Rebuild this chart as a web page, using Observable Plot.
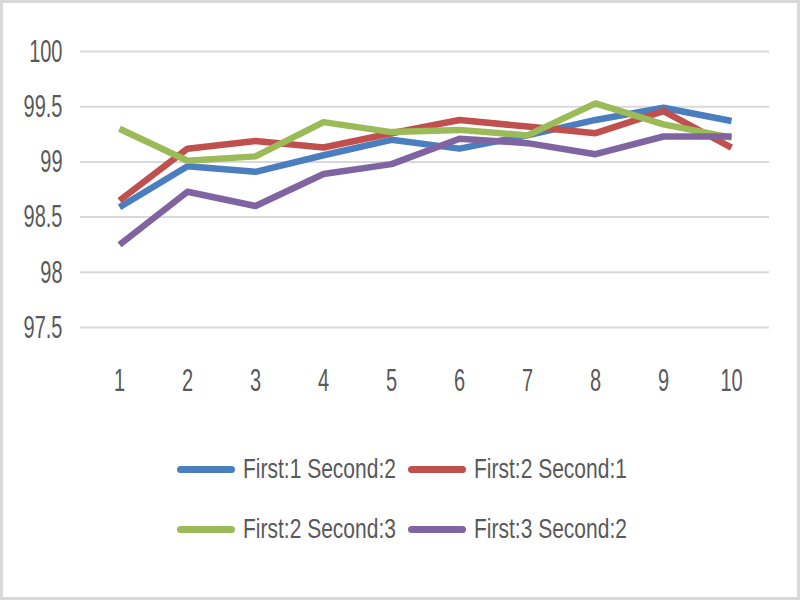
<!DOCTYPE html>
<html>
<head>
<meta charset="utf-8">
<script src="https://cdn.jsdelivr.net/npm/d3@7"></script>
<script src="https://cdn.jsdelivr.net/npm/@observablehq/plot@0.6"></script>
<style>
  html, body { margin: 0; padding: 0; background: #fff; }
  #wrap { position: relative; width: 800px; height: 600px; box-sizing: border-box; border: 3px solid #d9d9d9; background: #fff; overflow: hidden; }
  #chart { position: absolute; left: 0; top: 0; }
  .item { position: absolute; height: 0; }
  .sw { position: absolute; width: 58px; height: 7px; border-radius: 3.5px; top: -3.5px; left: 0; }
  .lab { position: absolute; left: 66px; top: -13px; line-height: 26px; white-space: nowrap; font-family: "Liberation Sans", Arial, sans-serif; font-size: 21px; color: #595959; transform: scaleY(1.3); transform-origin: left center; }
</style>
</head>
<body>
<div id="wrap"><div id="chart"></div></div>
<script>
const categories = [1, 2, 3, 4, 5, 6, 7, 8, 9, 10];
const series = ["First:1 Second:2", "First:2 Second:1", "First:2 Second:3", "First:3 Second:2"];
const colors = ["#4a7ebf", "#c0504d", "#9bbb59", "#8064a2"];
const yTicks = [97.5, 98, 98.5, 99, 99.5, 100];
const blue   = [98.59, 98.96, 98.91, 99.06, 99.20, 99.12, 99.24, 99.38, 99.49, 99.37];
const red    = [98.65, 99.12, 99.19, 99.13, 99.26, 99.38, 99.32, 99.26, 99.46, 99.13];
const green  = [99.30, 99.01, 99.05, 99.36, 99.27, 99.29, 99.24, 99.53, 99.34, 99.22];
const purple = [98.25, 98.73, 98.60, 98.89, 98.98, 99.21, 99.17, 99.07, 99.23, 99.23];

const valuesBySeries = [blue, red, green, purple];
const data = [];
series.forEach((s, i) => categories.forEach((c, j) => data.push({series: s, run: c, value: valuesBySeries[i][j]})));

const chart = Plot.plot({
  width: 794, height: 400,
  marginLeft: 77, marginRight: 28, marginTop: 48, marginBottom: 76,
  style: {fontFamily: "Liberation Sans, Arial, sans-serif", fontSize: "20px", color: "#595959", background: "transparent"},
  x: {type: "point", domain: categories, padding: 0.5, label: null},
  y: {domain: [97.5, 100], label: null},
  color: {domain: series, range: colors},
  marks: [
    Plot.gridY(yTicks, {stroke: "#d9d9d9", strokeOpacity: 1, strokeWidth: 2}),
    Plot.axisY(yTicks, {tickSize: 0, tickPadding: 18, tickFormat: d => String(d), label: null, fill: "#595959"}),
    Plot.axisX(categories, {tickSize: 0, tickPadding: 53, lineAnchor: "middle", label: null, fill: "#595959"}),
    Plot.line(data, {x: "run", y: "value", z: "series", stroke: "series", strokeWidth: 6.5, strokeLinecap: "butt", strokeLinejoin: "round"})
  ]
});
chart.querySelectorAll("text").forEach(t => {
  const tr = t.getAttribute("transform") || "";
  t.setAttribute("transform", tr + " scale(1,1.6)");
});
document.getElementById("chart").appendChild(chart);

const wrap = document.getElementById("wrap");
const legendPos = [[174, 466], [405, 466], [174, 526], [405, 526]];
series.forEach((s, i) => {
  const it = document.createElement("div");
  it.className = "item";
  it.style.left = legendPos[i][0] + "px";
  it.style.top = legendPos[i][1] + "px";
  const sw = document.createElement("div");
  sw.className = "sw";
  sw.style.background = colors[i];
  const lab = document.createElement("span");
  lab.className = "lab";
  lab.textContent = s;
  it.appendChild(sw); it.appendChild(lab);
  wrap.appendChild(it);
});
</script>
</body>
</html>
